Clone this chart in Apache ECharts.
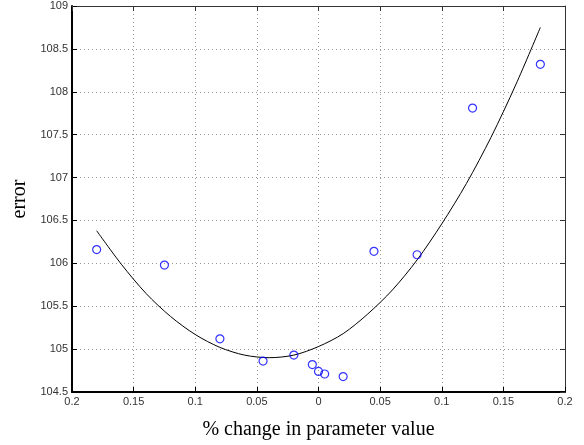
<!DOCTYPE html>
<html>
<head>
<meta charset="utf-8">
<script src="https://cdn.jsdelivr.net/npm/echarts@6/dist/echarts.min.js"></script>
<style>
  html, body { margin: 0; padding: 0; background: #fff; }
  #main { width: 584px; height: 445px; }
</style>
</head>
<body>
<div id="main"></div>
<script>
// measured points (% change, error)
const pointX = [-0.18, -0.125, -0.08, -0.045, -0.02, -0.005, 0.0, 0.005, 0.02, 0.045, 0.08, 0.125, 0.18]
const pointY = [106.16, 105.98, 105.12, 104.86, 104.93, 104.82, 104.74, 104.71, 104.68, 106.14, 106.1, 107.81, 108.32]

// fitted curve, every 0.02
const curveX = [-0.18, -0.16, -0.14, -0.12, -0.1, -0.08, -0.06, -0.04, -0.02, 0, 0.02, 0.04, 0.06, 0.08, 0.1, 0.12, 0.14, 0.16, 0.18]
const curveY = [106.38, 105.99, 105.65, 105.38, 105.17, 105.02, 104.93, 104.9, 104.93, 105.03, 105.18, 105.41, 105.69, 106.04, 106.46, 106.93, 107.47, 108.08, 108.75]

const zip = (xs, ys) => xs.map((x, i) => [x, ys[i]])

const labelStyle = { color: '#333', fontSize: 11, fontFamily: 'Liberation Sans, Arial, sans-serif' }
const gridLine = { show: true, lineStyle: { color: '#999', type: [1, 3], width: 1 } }

const chart = echarts.init(document.getElementById('main'))

chart.setOption({
  animation: false,
  grid: { left: 72, right: 19, top: 6, bottom: 51 },
  xAxis: [{
    type: 'value',
    min: -0.2,
    max: 0.2,
    interval: 0.05,
    name: '% change in parameter value',
    nameLocation: 'middle',
    nameGap: 28,
    nameTextStyle: { color: '#000', fontSize: 20, fontFamily: 'Liberation Serif, Times New Roman, serif' },
    axisLine: { onZero: false, lineStyle: { color: '#000', width: 2 } },
    axisTick: { inside: true, length: 5, lineStyle: { color: '#000' } },
    axisLabel: Object.assign({ margin: 4, formatter: v => String(Math.abs(+v.toFixed(2))) }, labelStyle),
    splitLine: gridLine
  }, {
    type: 'value',
    position: 'top',
    min: -0.2,
    max: 0.2,
    interval: 0.05,
    axisLine: { onZero: false, lineStyle: { color: '#333', width: 1 } },
    axisTick: { inside: true, length: 5, lineStyle: { color: '#333' } },
    axisLabel: { show: false },
    splitLine: { show: false }
  }],
  yAxis: [{
    type: 'value',
    min: 104.5,
    max: 109,
    interval: 0.5,
    name: 'error',
    nameLocation: 'middle',
    nameGap: 40,
    nameTextStyle: { color: '#000', fontSize: 20, fontFamily: 'Liberation Serif, Times New Roman, serif' },
    axisLine: { onZero: false, lineStyle: { color: '#000', width: 2 } },
    axisTick: { inside: true, length: 5, lineStyle: { color: '#000' } },
    axisLabel: Object.assign({ margin: 4 }, labelStyle),
    splitLine: gridLine
  }, {
    type: 'value',
    position: 'right',
    min: 104.5,
    max: 109,
    interval: 0.5,
    axisLine: { onZero: false, lineStyle: { color: '#333', width: 1 } },
    axisTick: { inside: true, length: 5, lineStyle: { color: '#333' } },
    axisLabel: { show: false },
    splitLine: { show: false }
  }],
  series: [{
    type: 'line',
    data: zip(curveX, curveY),
    smooth: 0.3,
    showSymbol: false,
    lineStyle: { color: '#000', width: 1 },
    z: 3
  }, {
    type: 'scatter',
    data: zip(pointX, pointY),
    symbol: 'circle',
    symbolSize: 8,
    itemStyle: { color: 'rgba(0,0,0,0)', borderColor: '#0000ff', borderWidth: 1.2 },
    z: 4
  }]
})
</script>
</body>
</html>
